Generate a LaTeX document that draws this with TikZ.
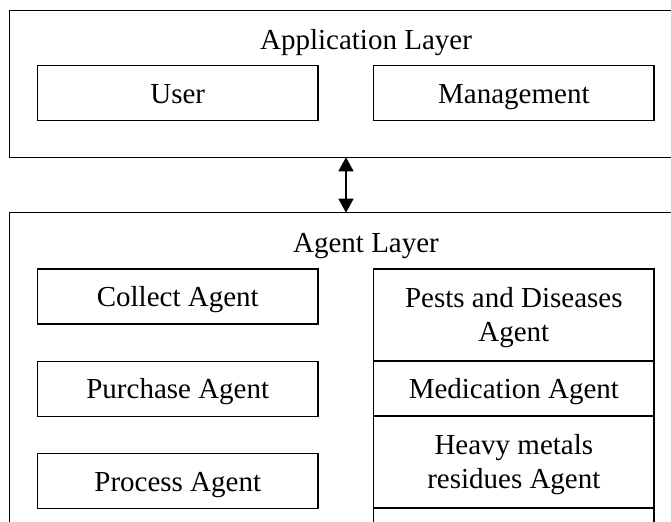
\documentclass[tikz,border=0pt]{standalone}
\usepackage{fontspec}
\setmainfont{Liberation Serif}
\usepackage{tikz}
\usetikzlibrary{arrows.meta, positioning}

\tikzset{
  layerbox/.style={draw, line width=0.7pt, inner sep=0pt, outer sep=0pt, minimum width=356.5pt},
  agentbox/.style={draw, line width=0.7pt, inner sep=0pt, outer sep=0pt, minimum width=140.25pt, minimum height=27.5pt, align=center, text height=10pt, text depth=0pt, font=\fontsize{14.5}{17}\selectfont},
  twoline/.style={minimum height=46pt, text height=27pt},
  layertitle/.style={anchor=base, font=\fontsize{14.5}{17}\selectfont}
}

\begin{document}
\begin{tikzpicture}[x=0.5pt, y=-0.5pt, >={Triangle[length=7pt,width=7.5pt]}]
\useasboundingbox (0,0) rectangle (671,522);
\clip (0,0) rectangle (671,522);
\node[layerbox, minimum height=73.5pt] (applayer) at (366,83.8) {};
\node[layertitle] (apptitle) at (366,50) {Application Layer};
\node[agentbox] (user) at (177.75,93.2) {User};
\node[agentbox] (management) at (513.85,93.2) {Management};
\node[layerbox, minimum height=243.65pt] (agentlayer) at (366,456.35) {};
\node[layertitle] (agenttitle) at (366,252.7) {Agent Layer};
\node[agentbox] (collect) at (177.75,296.5) {Collect Agent};
\node[agentbox, below=18.65pt of collect] (purchase) {Purchase Agent};
\node[agentbox, below=18.65pt of purchase] (process) {Process Agent};
\node[agentbox, twoline] (pests) at (513.85,315) {Pests and Diseases\\Agent};
\node[agentbox, below=0pt of pests] (medication) {Medication Agent};
\node[agentbox, twoline, below=0pt of medication] (heavy) {Heavy metals\\residues Agent};
\node[agentbox, twoline, below=0pt of heavy] (nextagent) {};
\coordinate (axis) at (346,0);
\draw[<->, line width=0.7pt] (applayer.south -| axis) -- (agentlayer.north -| axis);
\end{tikzpicture}
\end{document}
